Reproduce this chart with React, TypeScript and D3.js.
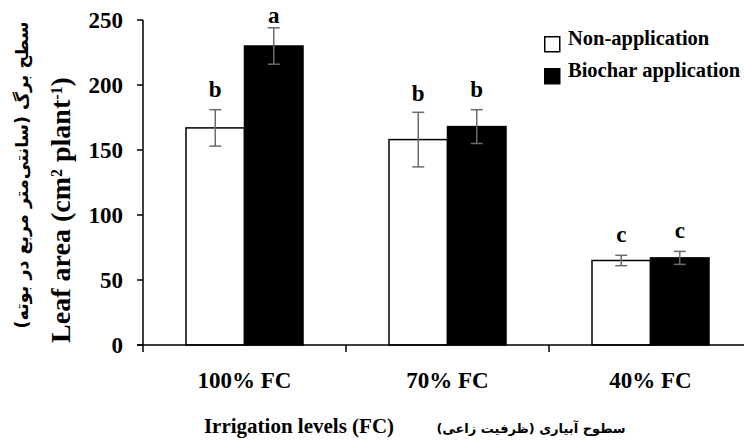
import * as d3 from "d3";

const levels = ["100% FC", "70% FC", "40% FC"];
const series = ["Non-application", "Biochar application"];
const nonApp = [167, 158, 65];
const nonAppErr = [14, 21, 4];
const biochar = [230, 168, 67];
const biocharErr = [14, 13, 5];
const nonAppLetters = ["b", "b", "c"];
const biocharLetters = ["a", "b", "c"];
// letter baselines, in y units
const nonAppLetterY = [191, 188, 79];
const biocharLetterY = [248, 191, 82];
const yTicks = [0, 50, 100, 150, 200, 250];

const width = 744;
const height = 441;
const marginLeft = 143;
const marginTop = 20;
const axisBottom = 345;
const bandW = 203;

const serif = "'Liberation Serif', 'Times New Roman', serif";
const persian = "'DejaVu Sans', sans-serif";

export default function App() {
  const x = d3
    .scaleBand<string>()
    .domain(levels)
    .range([marginLeft, marginLeft + bandW * levels.length])
    .paddingInner(0)
    .paddingOuter(0);
  const inner = d3
    .scaleBand<string>()
    .domain(series)
    .range([43, bandW - 43]);
  const y = d3.scaleLinear().domain([0, 250]).range([axisBottom, marginTop]);

  const groups = [
    { name: series[0], vals: nonApp, errs: nonAppErr, letters: nonAppLetters, ly: nonAppLetterY, fill: "#fff" },
    { name: series[1], vals: biochar, errs: biocharErr, letters: biocharLetters, ly: biocharLetterY, fill: "#000" },
  ];

  return (
    <svg
      width={width}
      height={height}
      style={{ position: "absolute", left: 0, top: 0, background: "#fff" }}
      fontFamily={serif}
      fontWeight="bold"
    >
      {/* bars */}
      {groups.map((g) =>
        levels.map((lv, i) => {
          const bx = (x(lv) as number) + (inner(g.name) as number);
          const bw = inner.bandwidth();
          const by = y(g.vals[i]);
          const cx = bx + bw / 2;
          return (
            <g key={g.name + lv}>
              <rect
                x={bx}
                y={by}
                width={bw}
                height={y(0) - by}
                fill={g.fill}
                stroke="#000"
                strokeWidth={1.5}
              />
              <g stroke="#6b6b6b" strokeWidth={1.5}>
                <line x1={cx} x2={cx} y1={y(g.vals[i] + g.errs[i])} y2={y(g.vals[i] - g.errs[i])} />
                <line x1={cx - 6} x2={cx + 6} y1={y(g.vals[i] + g.errs[i])} y2={y(g.vals[i] + g.errs[i])} />
                <line x1={cx - 6} x2={cx + 6} y1={y(g.vals[i] - g.errs[i])} y2={y(g.vals[i] - g.errs[i])} />
              </g>
              <text x={cx} y={y(g.ly[i])} textAnchor="middle" fontSize={23}>
                {g.letters[i]}
              </text>
            </g>
          );
        })
      )}

      {/* y axis */}
      <line x1={marginLeft} x2={marginLeft} y1={y(250)} y2={y(0)} stroke="#000" strokeWidth={1.5} />
      {yTicks.map((t) => (
        <g key={t}>
          <line x1={marginLeft - 6} x2={marginLeft} y1={y(t)} y2={y(t)} stroke="#000" strokeWidth={1.5} />
          <text x={marginLeft - 20} y={y(t)} dy="0.35em" textAnchor="end" fontSize={23}>
            {t}
          </text>
        </g>
      ))}

      {/* x axis */}
      <line x1={marginLeft - 6} x2={width} y1={y(0)} y2={y(0)} stroke="#000" strokeWidth={1.5} />
      {levels.map((lv) => (
        <g key={lv}>
          <line
            x1={x(lv) as number}
            x2={x(lv) as number}
            y1={y(0)}
            y2={y(0) + 7}
            stroke="#000"
            strokeWidth={1.5}
          />
          <text x={(x(lv) as number) + bandW / 2} y={388} textAnchor="middle" fontSize={23}>
            {lv}
          </text>
        </g>
      ))}

      {/* axis titles */}
      <text x={299} y={433} textAnchor="middle" fontSize={21}>
        Irrigation levels (FC)
      </text>
      <text x={531} y={433} textAnchor="middle" fontSize={13} fontFamily={persian} direction="rtl">
        سطوح آبیاری (ظرفیت زاعی)
      </text>
      <text
        transform="translate(70,210) rotate(-90)"
        textAnchor="middle"
        fontSize={28}
      >
        Leaf area (cm<tspan baselineShift="super" fontSize={16}>2</tspan> plant
        <tspan baselineShift="super" fontSize={16}>-1</tspan>)
      </text>
      <text
        transform="translate(28,175) rotate(-90)"
        textAnchor="middle"
        fontSize={17.5}
        fontFamily={persian}
        direction="rtl"
      >
        سطح برگ (سانتی‌متر مربع در بوته)
      </text>

      {/* legend */}
      {groups.map((g, i) => (
        <g key={g.name} transform={`translate(544,${36 + i * 32})`}>
          <rect x={0.75} y={0.75} width={15} height={15} fill={g.fill} stroke="#000" strokeWidth={1.5} />
          <text x={24} y={9} fontSize={20.5}>
            {g.name}
          </text>
        </g>
      ))}
    </svg>
  );
}
